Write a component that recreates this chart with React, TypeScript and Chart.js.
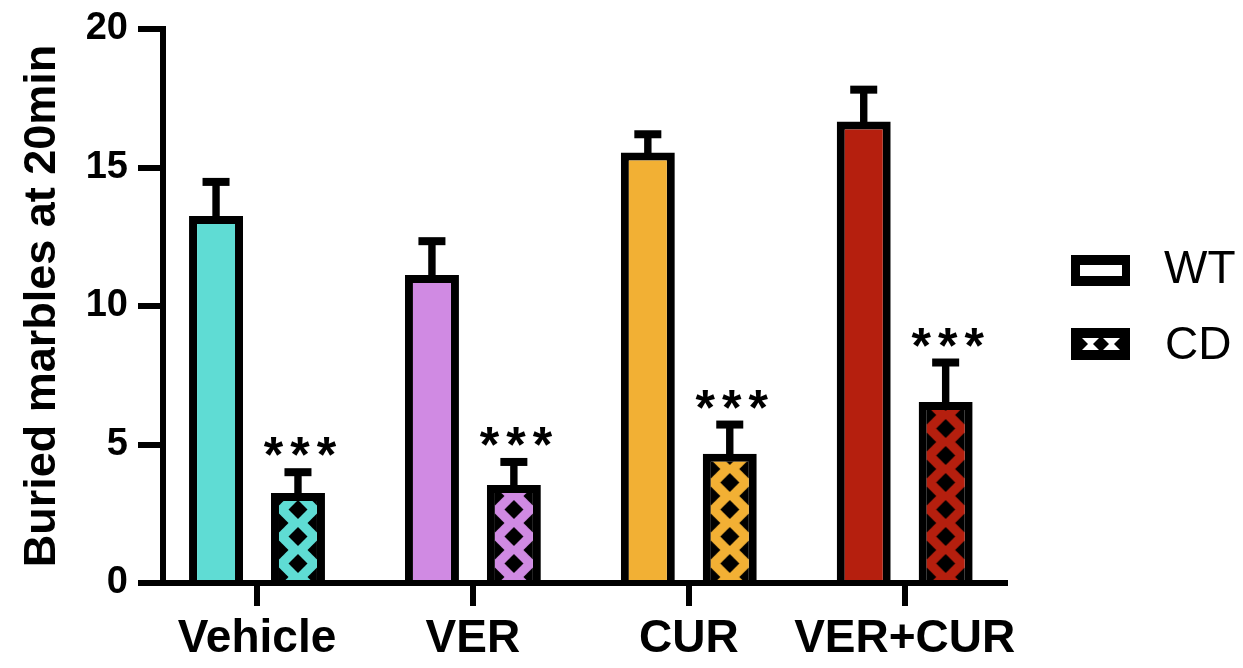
import React, { useEffect, useRef } from 'react';
import { Chart, registerables } from 'chart.js';

Chart.register(...registerables);

const categories = ['Vehicle', 'VER', 'CUR', 'VER+CUR'];
const seriesNames = ['WT', 'CD'];
const wtMeans = [13.25, 11.12, 15.54, 16.66];
const wtErrors = [1.23, 1.22, 0.66, 1.15];
const cdMeans = [3.25, 3.54, 4.67, 6.53];
const cdErrors = [0.75, 0.83, 1.05, 1.43];
const groupColors = ['#5FDCD4', '#D08AE3', '#F2B034', '#B51F0E'];
const significance = ['***', '***', '***', '***'];
const yTicks = [0, 5, 10, 15, 20];
const yTitle = 'Buried marbles at 20min';

const FONT = '"Liberation Sans", Arial, sans-serif';
const TILE_W = 38;
const TILE_H = 27;
const DIAMOND_R = 9.5;

function diamond(g: CanvasRenderingContext2D, x: number, y: number, r: number) {
  g.beginPath();
  g.moveTo(x, y - r);
  g.lineTo(x + r, y);
  g.lineTo(x, y + r);
  g.lineTo(x - r, y);
  g.closePath();
  g.fill();
}

function makePattern(ctx: CanvasRenderingContext2D, color: string): CanvasPattern {
  const c = document.createElement('canvas');
  c.width = TILE_W;
  c.height = TILE_H;
  const g = c.getContext('2d') as CanvasRenderingContext2D;
  g.fillStyle = color;
  g.fillRect(0, 0, TILE_W, TILE_H);
  g.fillStyle = '#000';
  const pts = [
    [0, 0],
    [TILE_W, 0],
    [0, TILE_H],
    [TILE_W, TILE_H],
    [TILE_W / 2, TILE_H / 2],
  ];
  for (const [x, y] of pts) diamond(g, x, y, DIAMOND_R);
  return ctx.createPattern(c, 'repeat') as CanvasPattern;
}

export default function App() {
  const canvasRef = useRef<HTMLCanvasElement | null>(null);

  useEffect(() => {
    const canvas = canvasRef.current;
    if (!canvas) return;
    const ctx = canvas.getContext('2d') as CanvasRenderingContext2D;
    const patterns = groupColors.map((c) => makePattern(ctx, c));
    const BORDER = 8;

    const patternPlugin = {
      id: 'patternAlign',
      beforeDatasetsDraw(chart: any) {
        const meta = chart.getDatasetMeta(1);
        meta.data.forEach((el: any, i: number) => {
          const { x, width, base } = el.getProps(['x', 'width', 'base'], true);
          const left = x - width / 2 + BORDER;
          patterns[i].setTransform(new DOMMatrix([1, 0, 0, 1, left, base - 3]));
        });
      },
    };

    const errorPlugin = {
      id: 'errorBars',
      afterDatasetsDraw(chart: any) {
        const c = chart.ctx as CanvasRenderingContext2D;
        const yScale = chart.scales.y;
        const sets = [
          { means: wtMeans, errs: wtErrors },
          { means: cdMeans, errs: cdErrors },
        ];
        c.save();
        c.fillStyle = '#000';
        sets.forEach((s, d) => {
          const meta = chart.getDatasetMeta(d);
          meta.data.forEach((el: any, i: number) => {
            const { x, y } = el.getProps(['x', 'y'], true);
            const capY = yScale.getPixelForValue(s.means[i] + s.errs[i]);
            c.fillRect(x - 3.7, capY, 7.4, y - capY + 2);
            c.fillRect(x - 13.5, capY - 4, 27, 8);
            if (d === 1) {
              const stars = significance[i];
              c.font = `bold 50px ${FONT}`;
              c.textAlign = 'center';
              c.textBaseline = 'alphabetic';
              const n = stars.length;
              for (let k = 0; k < n; k++) {
                const sx = x + 2 + (k - (n - 1) / 2) * 26.5;
                c.fillText(stars[k], sx, capY);
              }
            }
          });
        });
        c.restore();
      },
    };

    const legendPlugin = {
      id: 'customLegend',
      afterDraw(chart: any) {
        const c = chart.ctx as CanvasRenderingContext2D;
        c.save();
        // WT
        c.fillStyle = '#000';
        c.fillRect(1071, 255, 59, 31);
        c.fillStyle = '#fff';
        c.fillRect(1080, 265, 42, 11);
        // CD
        c.fillStyle = '#000';
        c.fillRect(1071, 328, 59, 32);
        c.fillStyle = '#fff';
        c.fillRect(1080, 338, 42, 12);
        c.save();
        c.beginPath();
        c.rect(1080, 338, 42, 12);
        c.clip();
        c.fillStyle = '#000';
        diamond(c, 1080, 344, 8);
        diamond(c, 1101, 344, 8);
        diamond(c, 1122, 344, 8);
        c.restore();
        c.fillStyle = '#000';
        c.font = `46px ${FONT}`;
        c.textAlign = 'left';
        c.textBaseline = 'middle';
        c.fillText(seriesNames[0], 1164, 270);
        c.fillText(seriesNames[1], 1165, 346);
        c.restore();
      },
    };

    const chart = new Chart(ctx, {
      type: 'bar',
      data: {
        datasets: [
          {
            label: seriesNames[0],
            data: wtMeans.map((v, i) => ({ x: i, y: v })),
            backgroundColor: groupColors,
            borderColor: '#000',
            borderWidth: BORDER,
            categoryPercentage: 0.759,
            barPercentage: 0.6585,
          },
          {
            label: seriesNames[1],
            data: cdMeans.map((v, i) => ({ x: i, y: v })),
            backgroundColor: patterns,
            borderColor: '#000',
            borderWidth: BORDER,
            categoryPercentage: 0.759,
            barPercentage: 0.6585,
          },
        ],
      },
      options: {
        responsive: false,
        animation: false,
        events: [],
        layout: { padding: { top: 25, right: 238, bottom: 0, left: 0 } },
        plugins: {
          legend: { display: false },
          tooltip: { enabled: false },
        },
        scales: {
          x: {
            type: 'linear',
            min: -0.4354,
            max: 3.4646,
            offset: false,
            z: 1,
            afterBuildTicks: (axis: any) => {
              axis.ticks = categories.map((_, i) => ({ value: i }));
            },
            afterFit: (axis: any) => {
              axis.height = 85;
            },
            ticks: {
              autoSkip: false,
              maxRotation: 0,
              minRotation: 0,
              padding: 10,
              color: '#000',
              font: { family: FONT, size: 46, weight: 'bold', lineHeight: 1 },
              callback: (v: any) => categories[v] ?? '',
            },
            grid: {
              display: true,
              drawOnChartArea: false,
              drawTicks: true,
              tickLength: 23,
              lineWidth: 6,
              color: '#000',
              offset: false,
            },
            border: { display: true, width: 6, color: '#000' },
          },
          y: {
            type: 'linear',
            min: 0,
            max: 20,
            afterBuildTicks: (axis: any) => {
              axis.ticks = yTicks.map((v) => ({ value: v }));
            },
            afterFit: (axis: any) => {
              axis.width = 163;
            },
            ticks: {
              padding: 10,
              color: '#000',
              font: { family: FONT, size: 38, weight: 'bold', lineHeight: 1 },
            },
            grid: {
              display: true,
              drawOnChartArea: false,
              drawTicks: true,
              tickLength: 25,
              lineWidth: 6,
              color: '#000',
            },
            border: { display: true, width: 6, color: '#000' },
            title: {
              display: true,
              text: yTitle,
              color: '#000',
              font: { family: FONT, size: 45, weight: 'bold', lineHeight: 1 },
              padding: { top: 20, bottom: 0 },
            },
          },
        },
      },
      plugins: [patternPlugin, errorPlugin, legendPlugin],
    } as any);

    return () => chart.destroy();
  }, []);

  return (
    <div style={{ position: 'fixed', left: 0, top: 0, width: 1243, height: 668, background: '#fff' }}>
      <canvas ref={canvasRef} width={1243} height={668} style={{ display: 'block' }} />
    </div>
  );
}
